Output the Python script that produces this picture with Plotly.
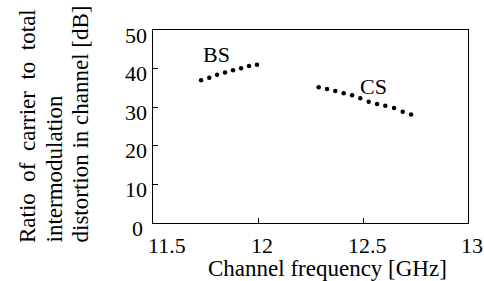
import plotly.graph_objects as go

bs_freq = [11.729, 11.768, 11.805, 11.843, 11.881, 11.919, 11.957, 11.995]
bs_cim = [37.0, 37.6, 38.4, 39.0, 39.6, 40.1, 40.7, 41.0]

cs_freq = [12.289, 12.329, 12.368, 12.408, 12.448, 12.487, 12.527, 12.567, 12.606, 12.648, 12.689, 12.729]
cs_cim = [35.2, 34.7, 34.2, 33.6, 33.1, 32.3, 31.4, 30.8, 30.4, 29.8, 28.8, 28.1]

x_ticks = [11.5, 12, 12.5, 13]
x_tick_labels = ["11.5", "12", "12.5", "13"]
y_ticks = [0, 10, 20, 30, 40, 50]
y_tick_labels = ["0", "10", "20", "30", "40", "50"]

FONT = "Liberation Serif"
FS = 22
FS_TITLE = 23

W, H = 484, 281
L, R, T, B = 153, 16, 30, 58
pw, ph = W - L - R, H - T - B

def px(xp):
    return (xp - L) / pw

def py(yp):
    return (H - B - yp) / ph

fig = go.Figure()
for xs, ys in [(bs_freq, bs_cim), (cs_freq, cs_cim)]:
    fig.add_trace(go.Scatter(x=xs, y=ys, mode="markers",
                             marker=dict(size=4.5, color="black"), showlegend=False))

annots = [
    dict(text="BS", x=11.8, y=43.6, xref="x", yref="y", xanchor="center", yanchor="middle"),
    dict(text="CS", x=12.55, y=35.4, xref="x", yref="y", xanchor="center", yanchor="middle"),
    dict(text="Channel frequency [GHz]", x=px(327.5), y=py(268), xref="paper", yref="paper",
         xanchor="center", yanchor="middle", font_size=FS_TITLE, height=25),
]

for v, t in zip(y_ticks, y_tick_labels):
    annots.append(dict(text=t, x=0, xref="paper", y=v, yref="y", xanchor="right",
                       yanchor="middle", xshift=-8 if v == 0 else -4, yshift=-5))
for v, t in zip(x_ticks, x_tick_labels):
    first = v == x_ticks[0]
    annots.append(dict(text=t, x=v, xref="x", y=0, yref="paper",
                       xanchor="left" if first else "center", yanchor="top",
                       xshift=-7 if first else 4, yshift=-11, height=18))

nb = "\u00a0"
ylines = [
    ("Ratio" + nb * 2 + "of" + nb * 2 + "carrier" + nb * 2 + "to" + nb * 2 + "total", 27),
    ("intermodulation", 54),
    ("distortion in channel [dB]", 80),
]
for txt, cx in ylines:
    annots.append(dict(text=txt, x=px(cx), y=py(245), xref="paper", yref="paper",
                       textangle=-90, xanchor="center", yanchor="bottom", font_size=FS_TITLE))

for a in annots:
    size = a.pop("font_size", FS)
    a.update(showarrow=False, font=dict(family=FONT, size=size, color="black"))

fig.update_layout(
    width=W, height=H,
    margin=dict(l=L, r=R, t=T, b=B, pad=0),
    paper_bgcolor="white", plot_bgcolor="white",
    font=dict(family=FONT, size=FS, color="black"),
    annotations=annots,
    xaxis=dict(range=[11.5, 13], tickvals=x_ticks, showticklabels=False,
               showgrid=False, zeroline=False, showline=True, linecolor="black", linewidth=1.3,
               mirror=True, ticks="inside", ticklen=5, tickcolor="black", tickwidth=1),
    yaxis=dict(range=[0, 50], tickvals=y_ticks, showticklabels=False,
               showgrid=False, zeroline=False, showline=True, linecolor="black", linewidth=1.3,
               mirror=True, ticks="inside", ticklen=5, tickcolor="black", tickwidth=1),
)

fig.write_html("out.html", config={"displayModeBar": False},
               post_script="document.body.style.margin='0';document.body.style.overflow='hidden';")
